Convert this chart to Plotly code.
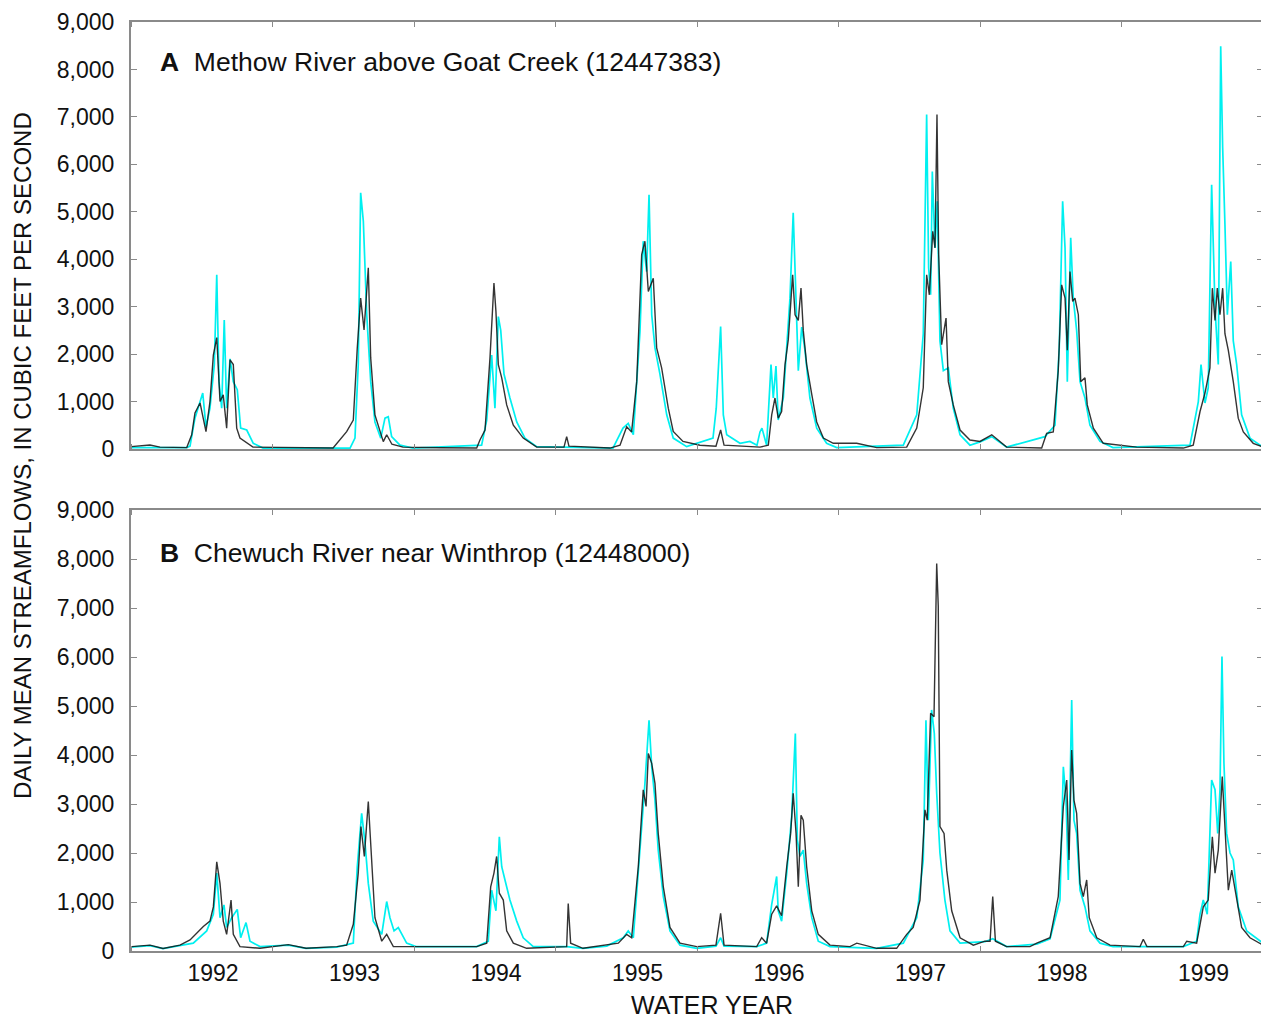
import plotly.graph_objects as go

# ---- data: (decimal calendar year, daily mean streamflow cfs) ----
years = [1992, 1993, 1994, 1995, 1996, 1997, 1998, 1999]
year_labels = [str(y) for y in years]
y_ticks = [0, 1000, 2000, 3000, 4000, 5000, 6000, 7000, 8000, 9000]

# Panel A - Methow River above Goat Creek, observed (black)
A_obs = [
    (1991.750, 50), (1991.884, 85), (1991.955, 40), (1992.144, 30), (1992.179, 300), (1992.202, 760),
    (1992.238, 970), (1992.280, 365), (1992.308, 1000), (1992.332, 1980), (1992.356, 2350), (1992.379, 1000),
    (1992.402, 1140), (1992.426, 440), (1992.450, 1880), (1992.473, 1780), (1992.497, 440), (1992.520, 230),
    (1992.612, 40), (1992.944, 30),
    (1993.178, 20), (1993.274, 365), (1993.321, 610), (1993.349, 2130), (1993.373, 3180), (1993.397, 2510),
    (1993.427, 3820), (1993.444, 1920), (1993.474, 720), (1993.533, 155), (1993.557, 300), (1993.594, 100),
    (1993.672, 40), (1993.934, 25),
    (1994.193, 20), (1994.216, 190), (1994.252, 400), (1994.287, 1920), (1994.315, 3500), (1994.329, 2900),
    (1994.346, 1780), (1994.370, 1500), (1994.405, 930), (1994.452, 500), (1994.522, 230), (1994.617, 40),
    (1994.810, 40), (1994.829, 260), (1994.845, 60),
    (1995.135, 20), (1995.206, 80), (1995.253, 470), (1995.288, 360), (1995.324, 1420), (1995.359, 4100),
    (1995.382, 4380), (1995.406, 3320), (1995.441, 3600), (1995.465, 2130), (1995.500, 1710), (1995.547, 860),
    (1995.582, 370), (1995.651, 160), (1995.771, 80), (1995.884, 60), (1995.917, 400), (1995.941, 80),
    (1996.195, 40), (1996.254, 80), (1996.278, 720), (1996.301, 1075), (1996.324, 650), (1996.348, 790),
    (1996.372, 1780), (1996.395, 2300), (1996.426, 3670), (1996.443, 2830), (1996.466, 2710), (1996.485, 3390),
    (1996.501, 2500), (1996.525, 1780), (1996.561, 1150), (1996.596, 570), (1996.643, 230), (1996.713, 120),
    (1996.879, 120), (1997.020, 30),
    (1997.232, 40), (1997.303, 440), (1997.349, 1290), (1997.373, 3670), (1997.392, 3250), (1997.416, 4590),
    (1997.432, 4240), (1997.446, 7050), (1997.458, 4100), (1997.479, 2200), (1997.510, 2760), (1997.526, 1420),
    (1997.561, 930), (1997.609, 400), (1997.679, 190), (1997.750, 160), (1997.833, 300), (1997.938, 40),
    (1998.186, 20), (1998.221, 330), (1998.268, 360), (1998.303, 1650), (1998.327, 3460), (1998.351, 3180),
    (1998.367, 2080), (1998.386, 3740), (1998.405, 3110), (1998.421, 3180), (1998.445, 2830), (1998.462, 1420),
    (1998.492, 1500), (1998.508, 930), (1998.551, 440), (1998.621, 120), (1998.857, 40),
    (1999.187, 20), (1999.257, 80), (1999.305, 790), (1999.340, 1180), (1999.375, 1710), (1999.392, 3390),
    (1999.411, 2710), (1999.427, 3390), (1999.446, 2830), (1999.465, 3390), (1999.481, 2430), (1999.505, 2080),
    (1999.540, 1420), (1999.575, 650), (1999.611, 360), (1999.681, 120), (1999.750, 40),
]

# Panel A - simulated (cyan)
A_sim = [
    (1991.750, 30), (1992.144, 30), (1992.167, 60), (1992.202, 650), (1992.257, 1180), (1992.280, 460),
    (1992.308, 860), (1992.339, 1780), (1992.356, 3670), (1992.372, 1420), (1992.391, 860), (1992.409, 2720),
    (1992.426, 860), (1992.450, 1900), (1992.473, 1420), (1992.501, 1250), (1992.525, 440), (1992.568, 400),
    (1992.614, 120), (1992.683, 20),
    (1993.298, 20), (1993.333, 230), (1993.356, 1780), (1993.373, 5400), (1993.392, 4800), (1993.416, 2830),
    (1993.444, 1420), (1993.474, 570), (1993.515, 230), (1993.545, 650), (1993.568, 680), (1993.592, 260),
    (1993.651, 80), (1993.743, 20),
    (1994.228, 80), (1994.264, 610), (1994.299, 1980), (1994.322, 860), (1994.346, 2790), (1994.363, 2500),
    (1994.386, 1580), (1994.428, 1075), (1994.476, 570), (1994.534, 230), (1994.617, 50),
    (1995.156, 20), (1995.227, 440), (1995.264, 540), (1995.300, 300), (1995.347, 2480), (1995.370, 4380),
    (1995.394, 3740), (1995.411, 5360), (1995.430, 2830), (1995.453, 2130), (1995.488, 1580), (1995.536, 720),
    (1995.582, 230), (1995.677, 50), (1995.863, 230), (1995.886, 860), (1995.917, 2580), (1995.936, 720),
    (1995.960, 300), (1996.054, 120), (1996.124, 160),
    (1996.174, 80), (1996.195, 360), (1996.209, 440), (1996.242, 80), (1996.273, 1780), (1996.289, 1075),
    (1996.308, 1750), (1996.324, 610), (1996.360, 1075), (1996.384, 2130), (1996.407, 3180), (1996.430, 4980),
    (1996.450, 2830), (1996.466, 1650), (1996.490, 2570), (1996.513, 2080), (1996.548, 1075), (1996.596, 440),
    (1996.666, 120), (1996.737, 30),
    (1997.208, 80), (1997.303, 720), (1997.349, 2430), (1997.373, 7050), (1997.387, 3820), (1997.401, 3250),
    (1997.413, 5850), (1997.432, 4240), (1997.448, 5220), (1997.467, 2280), (1997.491, 1650), (1997.526, 1710),
    (1997.561, 860), (1997.609, 300), (1997.679, 80), (1997.750, 150), (1997.833, 260), (1997.938, 40),
    (1998.209, 260), (1998.280, 500), (1998.310, 2130), (1998.334, 5220), (1998.351, 4240), (1998.367, 1420),
    (1998.391, 4450), (1998.409, 3180), (1998.433, 2500), (1998.457, 1420), (1998.492, 1075), (1998.527, 500),
    (1998.598, 160), (1998.690, 30),
    (1999.234, 80), (1999.293, 1000), (1999.312, 1780), (1999.340, 970), (1999.363, 1290), (1999.387, 5570),
    (1999.411, 2960), (1999.434, 1780), (1999.451, 8490), (1999.465, 6350), (1999.481, 4730), (1999.498, 2830),
    (1999.522, 3950), (1999.540, 2280), (1999.564, 1780), (1999.599, 720), (1999.658, 230), (1999.750, 40),
]

# Panel B - Chewuch River near Winthrop, observed (black)
B_obs = [
    (1991.755, 90), (1991.884, 120), (1991.976, 50), (1992.096, 120), (1992.167, 225), (1992.261, 500),
    (1992.308, 610), (1992.332, 900), (1992.356, 1820), (1992.379, 1380), (1992.402, 610), (1992.426, 340),
    (1992.457, 1040), (1992.473, 340), (1992.520, 90), (1992.662, 55), (1992.862, 130), (1992.987, 55),
    (1993.204, 90), (1993.274, 120), (1993.321, 545), (1993.356, 1590), (1993.375, 2540), (1993.399, 1930),
    (1993.427, 3050), (1993.444, 2130), (1993.474, 680), (1993.522, 200), (1993.557, 340), (1993.604, 90),
    (1994.193, 90), (1994.264, 160), (1994.292, 1310), (1994.315, 1590), (1994.334, 1930), (1994.353, 1180),
    (1994.381, 1040), (1994.405, 410), (1994.452, 160), (1994.546, 55), (1994.829, 90), (1994.840, 970),
    (1994.857, 160), (1994.944, 55),
    (1995.112, 120), (1995.194, 160), (1995.253, 340), (1995.288, 270), (1995.335, 1720), (1995.370, 3290),
    (1995.390, 2950), (1995.406, 4030), (1995.430, 3830), (1995.453, 3420), (1995.476, 2400), (1995.512, 1310),
    (1995.559, 480), (1995.630, 160), (1995.748, 90), (1995.884, 120), (1995.917, 770), (1995.941, 120),
    (1996.172, 90), (1996.207, 270), (1996.242, 160), (1996.278, 750), (1996.313, 920), (1996.348, 720),
    (1996.384, 1720), (1996.412, 2400), (1996.430, 3220), (1996.450, 2400), (1996.466, 1310), (1996.485, 2770),
    (1996.501, 2670), (1996.525, 1720), (1996.561, 820), (1996.607, 340), (1996.690, 120), (1996.831, 90),
    (1996.879, 160), (1997.020, 55),
    (1997.161, 55), (1997.232, 340), (1997.278, 480), (1997.326, 1040), (1997.361, 2880), (1997.377, 2670),
    (1997.401, 4850), (1997.425, 4780), (1997.444, 7910), (1997.455, 7040), (1997.467, 2540), (1997.496, 2400),
    (1997.515, 1650), (1997.550, 820), (1997.609, 270), (1997.703, 120), (1997.785, 200), (1997.821, 200),
    (1997.840, 1110), (1997.859, 200), (1997.938, 90),
    (1998.103, 90), (1998.151, 160), (1998.245, 270), (1998.303, 1110), (1998.339, 2950), (1998.363, 3490),
    (1998.379, 1860), (1998.398, 4100), (1998.414, 3080), (1998.433, 2810), (1998.457, 1380), (1998.480, 1110),
    (1998.504, 1450), (1998.522, 680), (1998.575, 270), (1998.669, 120), (1998.881, 90), (1998.904, 240),
    (1998.930, 90),
    (1999.187, 90), (1999.211, 200), (1999.281, 160), (1999.328, 900), (1999.363, 1040), (1999.392, 2330),
    (1999.411, 1590), (1999.434, 2060), (1999.462, 3560), (1999.481, 2540), (1999.505, 1240), (1999.529, 1650),
    (1999.564, 1040), (1999.599, 480), (1999.658, 270), (1999.750, 120),
]

# Panel B - simulated (cyan)
B_sim = [
    (1991.750, 80), (1991.884, 110), (1991.976, 50), (1992.096, 110), (1992.190, 160), (1992.285, 410),
    (1992.332, 750), (1992.356, 1590), (1992.379, 680), (1992.407, 940), (1992.426, 480), (1992.462, 680),
    (1992.501, 850), (1992.525, 270), (1992.563, 580), (1992.591, 200), (1992.662, 90), (1992.862, 120),
    (1992.987, 55),
    (1993.204, 80), (1993.321, 160), (1993.349, 1720), (1993.380, 2810), (1993.404, 2200), (1993.427, 1380),
    (1993.462, 610), (1993.522, 340), (1993.557, 1010), (1993.580, 680), (1993.609, 410), (1993.639, 480),
    (1993.698, 160), (1993.764, 90),
    (1994.193, 90), (1994.275, 200), (1994.299, 1240), (1994.329, 820), (1994.353, 2330), (1994.370, 1720),
    (1994.393, 1450), (1994.428, 1040), (1994.476, 610), (1994.522, 270), (1994.593, 90), (1994.829, 90),
    (1994.944, 55),
    (1995.112, 100), (1995.229, 270), (1995.264, 410), (1995.300, 270), (1995.347, 2000), (1995.382, 3420),
    (1995.411, 4710), (1995.430, 3760), (1995.453, 3080), (1995.476, 2060), (1995.512, 1110), (1995.559, 410),
    (1995.630, 120), (1995.748, 55), (1995.884, 100), (1995.917, 270), (1995.941, 100),
    (1996.172, 90), (1996.242, 160), (1996.278, 950), (1996.313, 1520), (1996.324, 820), (1996.348, 610),
    (1996.384, 1590), (1996.419, 2740), (1996.445, 4440), (1996.459, 2270), (1996.478, 1930), (1996.501, 2060),
    (1996.525, 1380), (1996.561, 680), (1996.607, 200), (1996.690, 90), (1997.020, 55),
    (1997.208, 160), (1997.303, 680), (1997.349, 1860), (1997.368, 4710), (1997.385, 2670), (1997.408, 4920),
    (1997.427, 4440), (1997.444, 3220), (1997.467, 2000), (1997.502, 1040), (1997.538, 410), (1997.609, 160),
    (1997.785, 190), (1997.840, 250), (1997.938, 90),
    (1998.151, 140), (1998.245, 250), (1998.315, 1040), (1998.339, 3760), (1998.358, 3080), (1998.374, 1450),
    (1998.398, 5120), (1998.414, 2670), (1998.433, 2400), (1998.457, 1240), (1998.492, 900), (1998.527, 410),
    (1998.598, 160), (1998.690, 90),
    (1999.187, 90), (1999.281, 200), (1999.305, 750), (1999.328, 1040), (1999.356, 750), (1999.387, 3490),
    (1999.411, 3290), (1999.430, 2400), (1999.446, 3290), (1999.460, 6010), (1999.474, 3830), (1999.493, 2400),
    (1999.517, 2000), (1999.540, 1860), (1999.575, 900), (1999.635, 410), (1999.750, 160),
]

panel_titles = ["Methow River above Goat Creek (12447383)", "Chewuch River near Winthrop (12448000)"]
panel_letters = ["A", "B"]

CYAN = "#00F0F0"
BLACK = "#111111"
FRAME = "#8a8a8a"
FONT = "Liberation Sans, Arial, Helvetica, sans-serif"


def unzip(pairs):
    return [p[0] for p in pairs], [p[1] for p in pairs]


fig = go.Figure()
for sim, obs, xa, ya in [(A_sim, A_obs, "x", "y"), (B_sim, B_obs, "x2", "y2")]:
    sx, sy = unzip(sim)
    ox, oy = unzip(obs)
    fig.add_trace(go.Scatter(x=sx, y=sy, mode="lines", line=dict(color=CYAN, width=1.7),
                             xaxis=xa, yaxis=ya, showlegend=False, hoverinfo="skip"))
    fig.add_trace(go.Scatter(x=ox, y=oy, mode="lines", line=dict(color=BLACK, width=1.4),
                             opacity=0.85, xaxis=xa, yaxis=ya, showlegend=False, hoverinfo="skip"))

x_start = years[0] - 0.25
x_end = years[-1] + 0.75
label_vals = [y + 0.33 for y in years]
bounds = [x_start + i for i in range(len(years) + 1)]

xcommon = dict(
    range=[x_start, x_end], tickmode="array", tickvals=label_vals, ticktext=year_labels,
    ticks="", showline=True, linecolor=FRAME, linewidth=2, mirror="ticks",
    showgrid=False, zeroline=False, automargin=False,
    minor=dict(tickmode="array", tickvals=bounds, ticks="inside", ticklen=5, tickcolor=FRAME, tickwidth=1.2,
               showgrid=False),
    tickfont=dict(family=FONT, size=23, color="#111"),
)
ycommon = dict(
    range=[0, 9000], tickmode="array", tickvals=y_ticks, tickformat=",d",
    ticks="inside", ticklen=6, tickcolor=FRAME, tickwidth=1.2,
    showline=True, linecolor=FRAME, linewidth=2, mirror="ticks",
    showgrid=False, zeroline=False, ticklabelstandoff=10, automargin=False,
    tickfont=dict(family=FONT, size=23, color="#111"),
)

# the page body adds an 8 px offset, so the figure is 8 px smaller than the window
OFF = 8
W = 1269 - OFF
H = 1021 - OFF
plot_left, plot_right = 131 - OFF, 1263 - OFF
a_top, a_bot = 22 - OFF, 449 - OFF
b_top, b_bot = 510 - OFF, 951 - OFF
ml, mr, mt, mb = plot_left, W - plot_right, a_top, H - b_bot
ph = H - mt - mb
pw = W - ml - mr

fig.update_layout(
    width=W, height=H,
    margin=dict(l=ml, r=mr, t=mt, b=mb, autoexpand=False),
    paper_bgcolor="white", plot_bgcolor="white",
    font=dict(family=FONT, size=20, color="#111"),
    xaxis=dict(xcommon, anchor="y", showticklabels=False),
    xaxis2=dict(xcommon, anchor="y2", showticklabels=True, ticklabelstandoff=0),
    yaxis=dict(ycommon, domain=[(b_bot - a_bot) / ph, 1.0], anchor="x"),
    yaxis2=dict(ycommon, domain=[0, (b_bot - b_top) / ph], anchor="x2"),
)

ann = []
for letter, title, xref, yref, ypos in [("A", panel_titles[0], "x domain", "y domain", 0.907),
                                        ("B", panel_titles[1], "x2 domain", "y2 domain", 0.9025)]:
    ann.append(dict(text=f"<b>{letter}</b>  {title}", xref=xref, yref=yref,
                    x=(158 - 131) / pw, y=ypos, xanchor="left", yanchor="middle", showarrow=False,
                    font=dict(family=FONT, size=26.5, color="#111")))
ann.append(dict(text="DAILY MEAN STREAMFLOWS, IN CUBIC FEET PER SECOND", textangle=-90,
                xref="paper", yref="paper", x=(22 - 131) / pw, y=(951 - 456) / ph,
                xanchor="center", yanchor="middle", showarrow=False,
                font=dict(family=FONT, size=24, color="#111")))
ann.append(dict(text="WATER YEAR", xref="paper", yref="paper",
                x=(712 - 131) / pw, y=(951 - 1005) / ph,
                xanchor="center", yanchor="middle", showarrow=False,
                font=dict(family=FONT, size=25, color="#111")))
fig.update_layout(annotations=ann)

fig.write_html("out.html")
